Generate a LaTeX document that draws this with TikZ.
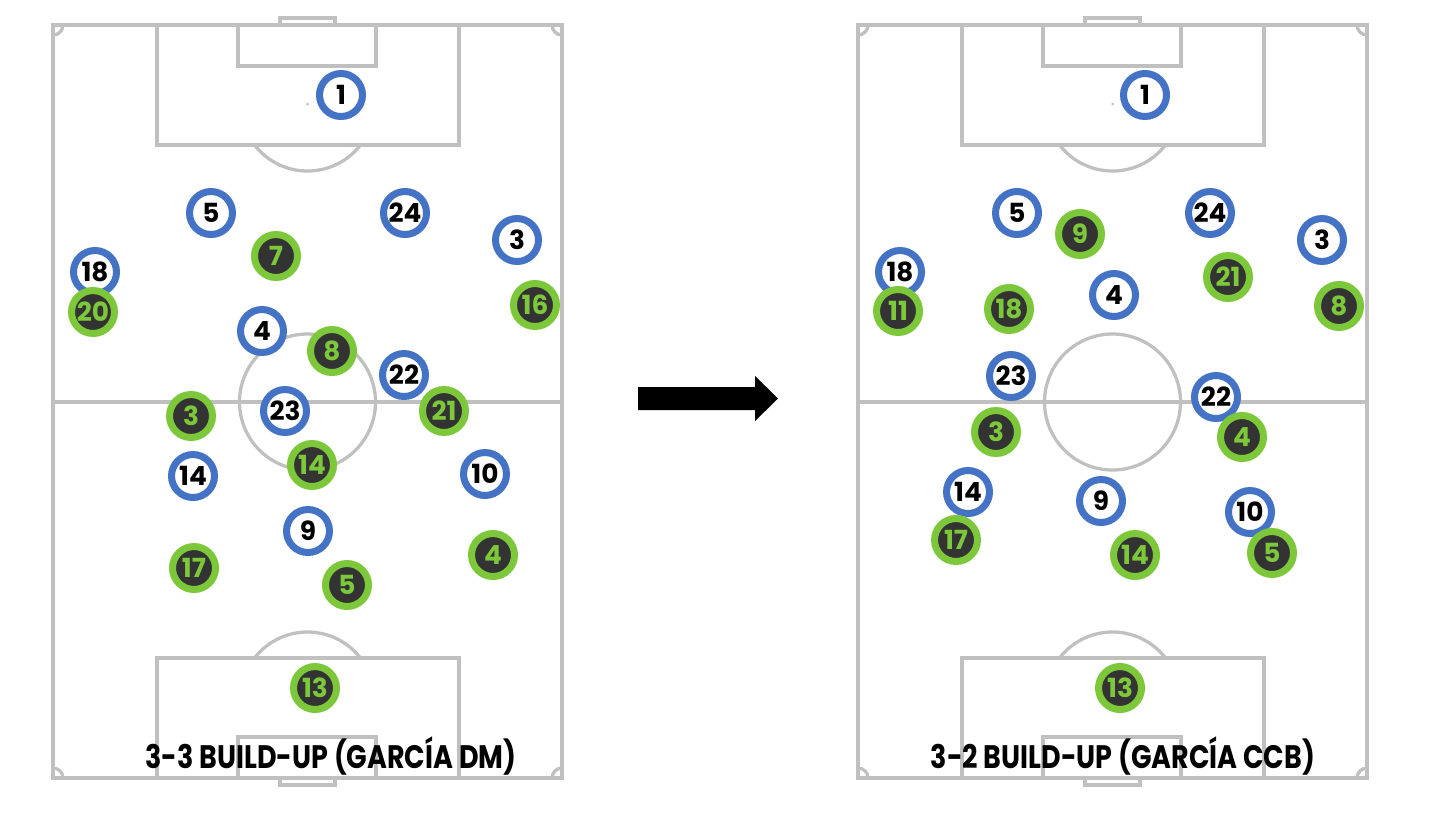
\documentclass[tikz,border=0pt]{standalone}
\usepackage{fontspec}
\setmainfont{Poppins}
\newfontfamily\headfont{Poppins}[FakeStretch=0.83]
\usepackage{xcolor}
\usepackage{tikz}
\definecolor{pitchgrey}{RGB}{192,192,192}
\definecolor{ringblue}{RGB}{68,114,196}
\definecolor{ringgreen}{RGB}{125,200,58}
\definecolor{shirtdark}{RGB}{51,51,51}

\begin{document}
\begin{tikzpicture}[x=0.02cm, y=-0.02cm,
    pitchline/.style={draw=pitchgrey, line width=0.065cm},
    player/.style={circle, line width=0.14cm, minimum size=0.86cm, inner sep=0pt,
      font=\bfseries\fontsize{15}{16}\selectfont},
    blueplayer/.style={player, draw=ringblue, fill=white, text=black},
    greenplayer/.style={player, draw=ringgreen, fill=shirtdark, text=ringgreen},
    heading/.style={anchor=base, font=\headfont\bfseries\fontsize{18.5}{20}\selectfont}]
  \useasboundingbox[fill=white] (0,0) rectangle (1456,819);
  % two pitches, the right one shifted
  \foreach \dx in {0,805} {
    \begin{scope}[xshift=\dx*0.02cm, pitchline]
      \draw (53,25) rectangle (562,778);
      \draw (53,402) -- (562,402);
      \draw (307.5,402) circle[radius=68];
      \draw (157,25) rectangle (459,145);
      \draw (238,25) rectangle (376,66);
      \draw (280,18) rectangle (335,25);
      \draw (157,658) rectangle (459,778);
      \draw (238,737) rectangle (376,778);
      \draw (280,778) rectangle (335,785);
      \fill[pitchgrey] (307.5,104) circle[radius=1.5];
      \begin{scope}
        \clip (157,145) rectangle (459,200);
        \draw (307.5,104) circle[radius=67];
      \end{scope}
      \begin{scope}
        \clip (157,658) rectangle (459,600);
        \draw (307.5,699) circle[radius=67];
      \end{scope}
      \begin{scope}
        \clip (53,25) rectangle (562,778);
        \foreach \cx/\cy in {53/25, 562/25, 53/778, 562/778}
          \draw (\cx,\cy) circle[radius=10];
      \end{scope}
    \end{scope}}
  % left: 3-3
  \foreach \num/\px/\py in {1/341/95, 5/211/213, 24/405/213, 3/517/240,
      18/95/272, 4/262/331, 22/404/375, 23/285/411, 14/193/476,
      10/485/474, 9/308/531}
    \node[blueplayer] (lb\num) at (\px,\py) {\num};
  \foreach \num/\px/\py in {7/276/256, 20/93/312, 16/535/305, 8/332/351,
      3/191/416, 21/444/411, 14/312/465, 17/194/568, 4/493/555,
      5/347/585, 13/315/688}
    \node[greenplayer] (lg\num) at (\px,\py) {\num};
  % right: 3-2
  \foreach \num/\px/\py in {1/1145/95, 5/1017/213, 24/1210/213, 3/1322/240,
      18/900/272, 4/1114/295, 23/1011/376, 22/1216/397, 14/968/492,
      9/1101/501, 10/1250/512}
    \node[blueplayer] (rb\num) at (\px,\py) {\num};
  \foreach \num/\px/\py in {9/1080/234, 21/1228/277, 11/898/311, 18/1009/309,
      8/1339/306, 3/996/432, 4/1242/437, 17/956/540, 14/1135/555,
      5/1272/553, 13/1120/688}
    \node[greenplayer] (rg\num) at (\px,\py) {\num};
  \node[heading] (titleleft) at (331,768) {3-3 BUILD-UP (GARCÍA DM)};
  \node[heading] (titleright) at (1123,768) {3-2 BUILD-UP (GARCÍA CCB)};
  \fill (638,387) -- (755,387) -- (755,376) -- (778,398.5) -- (755,421)
    -- (755,410) -- (638,410) -- cycle;
\end{tikzpicture}
\end{document}
